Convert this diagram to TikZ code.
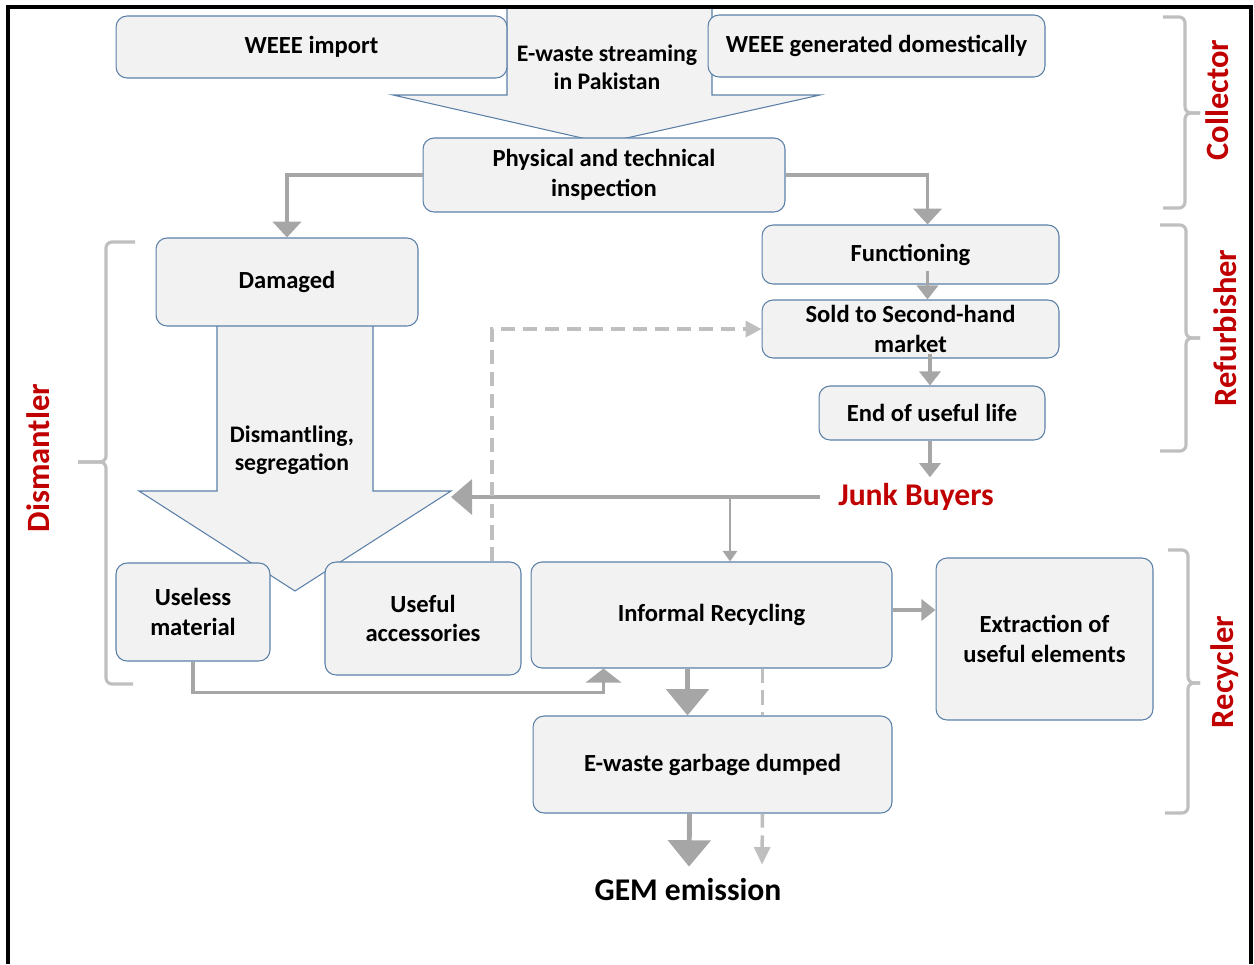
\documentclass[tikz,border=0pt]{standalone}
\usepackage{fontspec}
\setmainfont{Carlito}
\usetikzlibrary{calc,arrows.meta}
\definecolor{boxfill}{HTML}{F2F2F2}
\definecolor{boxline}{HTML}{5B80A8}
\definecolor{conngray}{HTML}{A6A6A6}
\definecolor{bracegray}{HTML}{BFBFBF}
\definecolor{dashgray}{HTML}{BFBFBF}
\definecolor{rolered}{HTML}{C00000}
\tikzset{
  stage/.style={draw=boxline, fill=boxfill, line width=0.6pt, rounded corners=0.22cm, align=center, inner sep=0pt, font=\fontsize{14}{17}\selectfont\bfseries},
  bigarrow/.style={draw=boxline, fill=boxfill, line width=0.6pt, line join=miter},
  flow/.style={draw=conngray, line width=2.1pt, -{Triangle[width=16pt,length=9pt]}},
  flowsmall/.style={draw=conngray, line width=1.8pt, -{Triangle[width=12pt,length=8pt]}},
  flowbig/.style={draw=conngray, line width=2.8pt, -{Triangle[width=24pt,length=15pt]}},
  dashflow/.style={draw=dashgray, line width=2pt, dash pattern=on 8pt off 4.5pt},
  brace/.style={draw=bracegray, line width=1.8pt, rounded corners=0.12cm},
  role/.style={text=rolered, font=\fontsize{18.5}{20}\selectfont\bfseries, rotate=90},
  lab/.style={align=center, font=\fontsize{13.5}{16}\selectfont\bfseries},
}

\begin{document}
\begin{tikzpicture}[x=0.02cm, y=-0.02cm]
  \useasboundingbox (0,0) rectangle (1254,964);

  % big arrows behind the boxes
  \draw[bigarrow] (507,7) -- (712,7) -- (712,95) -- (820,95) -- (604,143)
    -- (393,95) -- (507,95) -- cycle;
  \draw[bigarrow] (217,320) -- (373,320) -- (373,491) -- (451,491) -- (295,591)
    -- (139,491) -- (217,491) -- cycle;
  \coordinate (dtip) at (451,491);
  \node[lab] (stream) at (607,67) {E-waste streaming\\in Pakistan};
  \node[lab] (dism) at (292,450) {Dismantling,\\segregation};
  \draw[line width=1.8pt] (8,964) |- (1251,7) -- (1251,964);

  % boxes
  \node[stage, minimum width=7.82cm, minimum height=1.24cm] (imp) at (311.5,47) {WEEE import};
  \node[stage, minimum width=6.74cm, minimum height=1.24cm] (dom) at (876.5,46) {WEEE generated domestically};
  \node[stage, minimum width=7.24cm, minimum height=1.48cm] (insp) at (604,175) {Physical and technical\\inspection};
  \node[stage, minimum width=5.24cm, minimum height=1.76cm] (dam) at (287,282) {Damaged};
  \node[stage, minimum width=5.94cm, minimum height=1.18cm] (func) at (910.5,254.5) {Functioning};
  \node[stage, minimum width=5.94cm, minimum height=1.16cm] (sold) at (910.5,329) {Sold to Second-hand\\market};
  \node[stage, minimum width=4.52cm, minimum height=1.08cm] (end) at (932,413) {End of useful life};
  \node[stage, minimum width=3.08cm, minimum height=1.96cm] (useless) at (193,612) {Useless\\material};
  \node[stage, minimum width=3.92cm, minimum height=2.26cm] (acc) at (423,618.5) {Useful\\accessories};
  \node[stage, minimum width=7.22cm, minimum height=2.12cm] (recyc) at (711.5,615) {Informal Recycling};
  \node[stage, minimum width=4.34cm, minimum height=3.24cm] (extr) at (1044.5,639) {Extraction of\\useful elements};
  \node[stage, minimum width=7.18cm, minimum height=1.94cm] (dump) at (712.5,764.5) {E-waste garbage dumped};
  \node[text=rolered, inner xsep=10pt, font=\fontsize{18}{20}\selectfont\bfseries] (junk) at (916,497) {Junk Buyers};
  \node[font=\fontsize{18}{20}\selectfont\bfseries] (gem) at (688,890) {GEM emission};

  % connectors
  \draw[flow] (insp.west) -| (dam.north);
  \draw[flow] (insp.east) -| ($(func.north)+(17,0)$);
  \draw[flowsmall] ($(func.south)+(17,-14)$) -- ($(sold.north)+(17,0)$);
  \draw[flowsmall] ($(sold.south -| end.north)+(-2,-5)$) -- ($(end.north)+(-2,0)$);
  \draw[flowsmall] ($(end.south)+(-2,0)$) -- ($(end.south |- junk.north)+(-2,0)$);
  \draw[flow, -{Triangle[width=20pt,length=12pt]}] (junk.west) -- (junk.west -| dtip);
  \coordinate (jb) at (730,498);
  \draw[draw=conngray, line width=1.6pt, -{Triangle[width=8pt,length=6pt]}] (jb) -- (jb |- recyc.north);
  \draw[dashflow, -{Triangle[width=9pt,length=9pt]}] ($(acc.north)+(69,0)$) |- (sold.west);
  \draw[flowsmall] (recyc.east) ++(0,-5) -- ($(extr.west)+(0,-29)$);
  \draw[flow, -{Triangle[width=20pt,length=8pt]}] (useless.south) -- ++(0,31) -| ($(recyc.south)+(-108,0)$);
  \draw[flowbig] ($(recyc.south)+(-24,0)$) -- ($(dump.north)+(-25,0)$);
  \draw[dashflow] ($(recyc.south)+(51,0)$) -- ($(dump.north)+(50,0)$);
  \draw[flowbig] ($(dump.south)+(-23,0)$) -- ($(gem.north)+(1,-6)$);
  \draw[dashflow, -{Triangle[width=9pt,length=10pt]}] ($(dump.south)+(50,0)$) -- ($(gem.north)+(74,-8)$);

  % role braces
  \draw[brace] (1163,17) -| (1185,113) -- (1200,113);
  \draw[brace] (1200,113) -| (1185,208) -- (1163,208);
  \draw[brace] (1160,225) -| (1186,338) -- (1200,338);
  \draw[brace] (1200,338) -| (1186,451) -- (1160,451);
  \draw[brace] (1168,550) -| (1188,683) -- (1200,683);
  \draw[brace] (1200,683) -| (1188,813) -- (1165,813);
  \draw[brace] (135,242) -| (106,462) -- (78,462);
  \draw[brace] (78,462) -| (106,684) -- (133,684);
  \node[role] (coll) at (1217,100) {Collector};
  \node[role] (refu) at (1225,328) {Refurbisher};
  \node[role] (recy) at (1225,672) {Recycler};
  \node[role] (dman) at (38,458) {Dismantler};
\end{tikzpicture}
\end{document}
